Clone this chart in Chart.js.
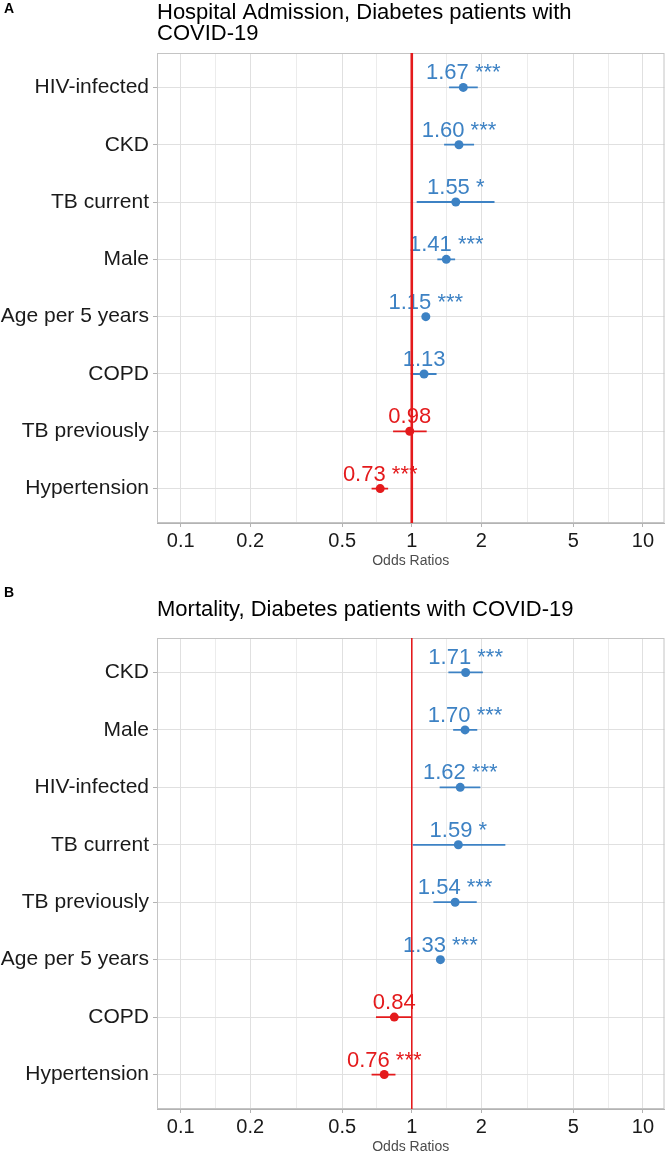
<!DOCTYPE html>
<html>
<head>
<meta charset="utf-8">
<script src="https://cdn.jsdelivr.net/npm/chart.js@4/dist/chart.umd.min.js"></script>
<style>
  html, body { margin: 0; padding: 0; background: #fff; overflow: hidden; width: 669px; height: 1151px; }
  .panel { position: absolute; left: 0; width: 669px; }
</style>
</head>
<body>
<div class="panel" style="top:0;height:574px"><canvas id="admission"></canvas></div>
<div class="panel" style="top:574px;height:586px"><canvas id="mortality"></canvas></div>
<script>
// Panel A - hospital admission
const admissionLabels = ["HIV-infected", "CKD", "TB current", "Male", "Age per 5 years", "COPD", "TB previously", "Hypertension"];
const admissionOR = [1.67, 1.60, 1.55, 1.41, 1.15, 1.13, 0.98, 0.73];
const admissionLow = [1.45, 1.38, 1.05, 1.29, 1.12, 0.99, 0.83, 0.67];
const admissionHigh = [1.93, 1.86, 2.28, 1.54, 1.18, 1.28, 1.16, 0.79];
const admissionStars = ["***", "***", "*", "***", "***", "", "", "***"];

// Panel B - mortality
const mortalityLabels = ["CKD", "Male", "HIV-infected", "TB current", "TB previously", "Age per 5 years", "COPD", "Hypertension"];
const mortalityOR = [1.71, 1.70, 1.62, 1.59, 1.54, 1.33, 0.84, 0.76];
const mortalityLow = [1.44, 1.51, 1.32, 1.01, 1.24, 1.30, 0.70, 0.67];
const mortalityHigh = [2.03, 1.92, 1.98, 2.54, 1.91, 1.36, 1.00, 0.85];
const mortalityStars = ["***", "***", "***", "*", "***", "***", "", "***"];

// x axis
const xTicks = [0.1, 0.2, 0.5, 1, 2, 5, 10];
const xMin = 0.079;
const xMax = 12.4;
const refLine = 1;

const BLUE = "#3d82c4";
const RED = "#e41a1c";
const FONT = "'Liberation Sans', Arial, sans-serif";

function colorFor(v) {
    return v < 1 ? RED : BLUE;
}

// minor grid lines sit halfway (in log space) between the labelled ticks
const xMinor = xTicks.slice(1).map((v, i) => Math.sqrt(v * xTicks[i]));
const xAllTicks = xTicks.concat(xMinor).sort((a, b) => a - b);

// letter + title above each panel
const panelHeader = {
    id: "panelHeader",
    afterDraw(chart, args, opts) {
        const ctx = chart.ctx;
        ctx.save();
        ctx.fillStyle = "#000";
        ctx.textBaseline = "middle";
        ctx.textAlign = "left";
        ctx.font = "bold 14px " + FONT;
        ctx.fillText(opts.letter, 4, opts.letterY);
        ctx.font = "22px " + FONT;
        opts.lines.forEach((line, i) => {
            ctx.fillText(line, chart.chartArea.left, opts.titleY + i * 21);
        });
        ctx.restore();
    },
};

// panel border + odds-ratio text labels (under the marks)
const panelDecor = {
    id: "panelDecor",
    beforeDatasetsDraw(chart, args, opts) {
        const ctx = chart.ctx;
        const a = chart.chartArea;
        const xs = chart.scales.x;
        const ys = chart.scales.y;
        ctx.save();
        ctx.font = "22px " + FONT;
        ctx.textAlign = "center";
        ctx.textBaseline = "alphabetic";
        opts.or.forEach((v, i) => {
            const px = xs.getPixelForValue(v);
            const py = ys.getPixelForValue(i + 1);
            const txt = v.toFixed(2) + (opts.stars[i] ? " " + opts.stars[i] : "");
            ctx.fillStyle = colorFor(v);
            ctx.fillText(txt, px, py - 8);
        });
        ctx.strokeStyle = "#c4c4c4";
        ctx.lineWidth = 1;
        ctx.strokeRect(a.left + 0.5, a.top + 0.5, a.right - a.left - 1, a.bottom - a.top - 1);
        ctx.restore();
    },
};

function makePanel(id, labels, or, low, high, stars, header, topPad, refWidth) {
    const ciSets = labels.map((l, i) => ({
        type: "line",
        data: [{ x: low[i], y: i + 1 }, { x: high[i], y: i + 1 }],
        borderColor: colorFor(or[i]),
        borderWidth: 1.8,
        pointRadius: 0,
        showLine: true,
        order: 2,
    }));

    const pointSet = {
        type: "scatter",
        data: or.map((v, i) => ({ x: v, y: i + 1 })),
        pointBackgroundColor: or.map(colorFor),
        pointBorderWidth: 0,
        pointRadius: 4.5,
        order: 1,
    };

    const refSet = {
        type: "line",
        data: [{ x: refLine, y: 0.4 }, { x: refLine, y: labels.length + 0.6 }],
        borderColor: RED,
        borderWidth: refWidth,
        pointRadius: 0,
        showLine: true,
        order: 0,
    };

    return new Chart(document.getElementById(id).getContext("2d"), {
        type: "scatter",
        data: { datasets: ciSets.concat([pointSet, refSet]) },
        options: {
            responsive: true,
            maintainAspectRatio: false,
            animation: false,
            layout: { padding: { top: topPad, right: 1, left: 0, bottom: 0 } },
            plugins: {
                legend: { display: false },
                tooltip: { enabled: false },
                panelHeader: header,
                panelDecor: { or: or, stars: stars },
            },
            scales: {
                x: {
                    type: "logarithmic",
                    min: xMin,
                    max: xMax,
                    afterBuildTicks: (s) => {
                        s.ticks = xAllTicks.map((v) => ({ value: v }));
                    },
                    afterFit: (s) => {
                        s.height = 51;
                        s.paddingRight = 0;
                        s.paddingLeft = 0;
                    },
                    ticks: {
                        autoSkip: false,
                        maxRotation: 0,
                        padding: 2,
                        color: "#1a1a1a",
                        font: { family: FONT, size: 20 },
                        callback: (v) => (xTicks.includes(v) ? String(v) : ""),
                    },
                    grid: {
                        color: (c) => (c.tick && xTicks.includes(c.tick.value) ? "#e0e0e0" : "#ececec"),
                        tickColor: (c) => (c.tick && xTicks.includes(c.tick.value) ? "#b3b3b3" : "rgba(0,0,0,0)"),
                        tickLength: 4,
                    },
                    border: { display: true, color: "#b3b3b3" },
                    title: {
                        display: true,
                        text: "Odds Ratios",
                        color: "#4d4d4d",
                        font: { family: FONT, size: 14 },
                        padding: { top: 0, bottom: 4 },
                    },
                },
                y: {
                    type: "linear",
                    reverse: true,
                    min: 0.4,
                    max: labels.length + 0.6,
                    afterBuildTicks: (s) => {
                        s.ticks = labels.map((l, i) => ({ value: i + 1 }));
                    },
                    afterFit: (s) => {
                        s.width = 157;
                        s.paddingTop = 0;
                        s.paddingBottom = 0;
                    },
                    ticks: {
                        autoSkip: false,
                        padding: 4,
                        color: "#1a1a1a",
                        font: { family: FONT, size: 21 },
                        callback: (v) => labels[v - 1],
                    },
                    grid: { color: "#e0e0e0", tickColor: "#b3b3b3", tickLength: 4 },
                    border: { display: true, color: "#b3b3b3" },
                },
            },
        },
        plugins: [panelHeader, panelDecor],
    });
}

const admissionChart = makePanel(
    "admission", admissionLabels, admissionOR, admissionLow, admissionHigh, admissionStars,
    { letter: "A", letterY: 9, lines: ["Hospital Admission, Diabetes patients with", "COVID-19"], titleY: 13 },
    53, 2.6
);

const mortalityChart = makePanel(
    "mortality", mortalityLabels, mortalityOR, mortalityLow, mortalityHigh, mortalityStars,
    { letter: "B", letterY: 19, lines: ["Mortality, Diabetes patients with COVID-19"], titleY: 36 },
    64, 1.6
);
</script>
</body>
</html>
